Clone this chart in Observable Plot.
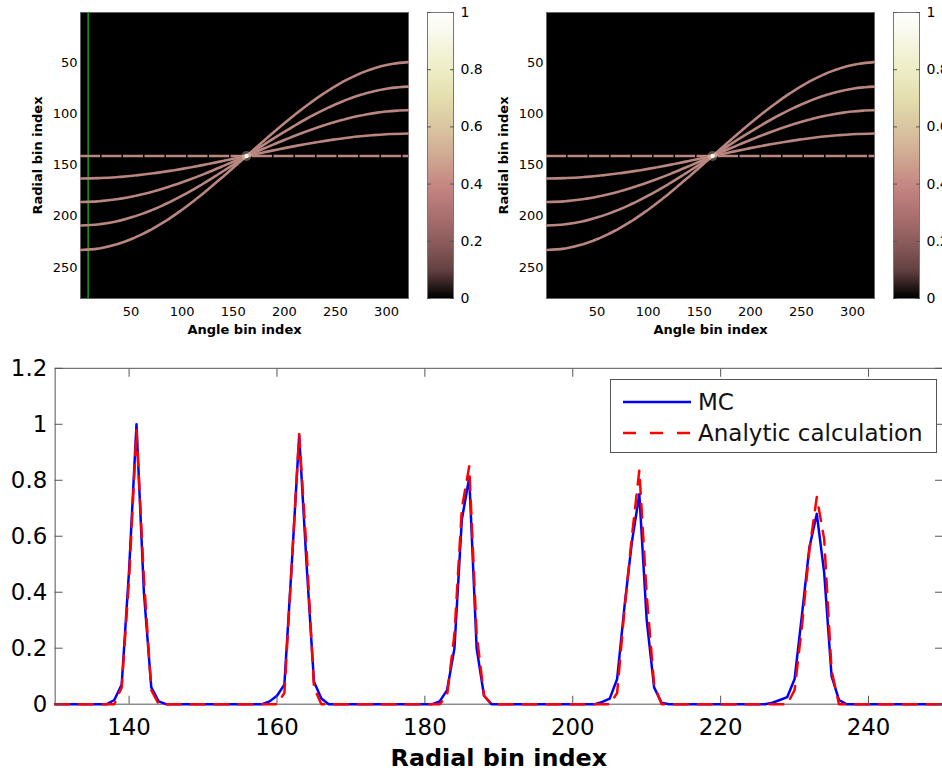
<!DOCTYPE html>
<html><head><meta charset="utf-8">
<script src="https://cdn.jsdelivr.net/npm/d3@7"></script>
<script src="https://cdn.jsdelivr.net/npm/@observablehq/plot@0.6"></script>
<style>
body{margin:0;background:#fff;}
#root{position:relative;width:942px;height:776px;overflow:hidden;background:#fff;font-family:"DejaVu Sans",sans-serif;}
#root > *{position:absolute;}
</style></head><body><div id="root"></div>
<script>
// ---------- Top panels: sinogram curves (angle bin vs radial bin) ----------
const angleSamples = [1, 20, 40, 60, 80, 100, 120, 140, 160, 180, 200, 220, 240, 260, 280, 300, 321];
const curveR1 = [163, 162.6, 161.4, 159.4, 156.8, 153.6, 149.9, 145.8, 141.6, 137.4, 133.3, 129.5, 126.2, 123.3, 121.1, 119.7, 119.0];
const curveR2 = [186, 185.2, 182.7, 178.7, 173.3, 166.7, 159.2, 150.9, 142.3, 133.7, 125.3, 117.5, 110.6, 104.8, 100.3, 97.4, 96.1];
const curveR3 = [209, 207.7, 204.0, 197.9, 189.8, 179.8, 168.4, 155.9, 143.0, 129.9, 117.3, 105.5, 95.1, 86.3, 79.6, 75.1, 73.1];
const curveR4 = [233, 231.3, 226.2, 218.0, 207.0, 193.6, 178.1, 161.2, 143.7, 126.0, 108.9, 93.0, 78.9, 67.0, 57.9, 51.9, 49.1];
const flatRadial = 141;          // horizontal line
const crossAngle = 163;          // bright crossing point
const greenAngle = 8;            // green marker line (left panel only)
const heatXTicks = [50, 100, 150, 200, 250, 300];
const heatYTicks = [50, 100, 150, 200, 250];
const angleDomain = [0.5, 321.5];
const radialDomain = [0.5, 280.5];

// colour bar (pink colormap) stops
const cmapStops  = [0, 0.1, 0.2, 0.3, 0.4, 0.5, 0.6, 0.7, 0.8, 0.9, 1];
const cmapColors = ["#000000","#654242","#8e5d5d","#ae7272","#c68984","#d0aa93","#dac6a1","#e4deae","#ededc6","#f6f6e4","#ffffff"];
const cbarTicks = [0, 0.2, 0.4, 0.6, 0.8, 1];

// ---------- Bottom panel: profiles ----------
const mcX = [130, 137, 138, 139, 140, 141, 142, 143, 144, 145,
             158, 159, 160, 161, 162, 163, 164, 165, 166, 167,
             181, 182, 183, 184, 185, 186, 187, 188, 189,
             203, 204, 205, 206, 207, 208, 209, 210, 211, 212, 213,
             226, 227, 228, 229, 230, 231, 232, 233, 234, 235, 236, 237, 250];
const mcY = [0, 0, 0.015, 0.07, 0.48, 1.0, 0.40, 0.06, 0.01, 0,
             0, 0.01, 0.03, 0.07, 0.50, 0.96, 0.50, 0.08, 0.02, 0,
             0, 0.01, 0.05, 0.20, 0.66, 0.81, 0.20, 0.03, 0,
             0, 0.008, 0.02, 0.09, 0.35, 0.58, 0.75, 0.30, 0.06, 0.005, 0,
             0, 0.005, 0.015, 0.025, 0.09, 0.32, 0.56, 0.68, 0.47, 0.10, 0.015, 0, 0];
const anX = [130, 138, 139, 140, 141, 142, 143, 144,
             160, 161, 162, 163, 164, 165, 166,
             182, 183, 184, 185, 186, 187, 188, 189,
             205, 206, 207, 208, 209, 210, 211, 212,
             229, 230, 231, 232, 233, 234, 235, 236, 250];
const anY = [0, 0, 0.06, 0.45, 0.98, 0.45, 0.05, 0,
             0, 0.04, 0.50, 0.965, 0.55, 0.06, 0,
             0, 0.03, 0.25, 0.70, 0.85, 0.25, 0.03, 0,
             0, 0.04, 0.34, 0.60, 0.835, 0.39, 0.07, 0,
             0, 0.05, 0.28, 0.55, 0.74, 0.59, 0.12, 0, 0];
const profXTicks = [140, 160, 180, 200, 220, 240];
const profYTicks = [0, 0.2, 0.4, 0.6, 0.8, 1, 1.2];
const seriesNames = ["MC", "Analytic calculation"];

const root = document.getElementById("root");
const FONT = "DejaVu Sans";
const curveColor = "#b98680";

function place(el, left, top) { el.style.left = left + "px"; el.style.top = top + "px"; root.appendChild(el); return el; }

function makeHeat(showGreen) {
  const curves = [curveR1, curveR2, curveR3, curveR4];
  const rows = curves.flatMap((rs, k) => rs.map((r, i) => ({id: k, angle: angleSamples[i], r})));
  return Plot.plot({
    width: 420, height: 340, marginLeft: 80, marginRight: 12, marginTop: 12, marginBottom: 42,
    x: {domain: angleDomain},
    y: {domain: radialDomain, reverse: true},
    style: {fontFamily: FONT, fontSize: "13px", background: "transparent", overflow: "visible"},
    marks: [
      Plot.frame({fill: "black", stroke: "#666"}),
      showGreen ? Plot.ruleX([greenAngle], {stroke: "#0a9a0a", strokeWidth: 1.6}) : null,
      Plot.ruleY([flatRadial], {stroke: curveColor, strokeWidth: 2.6, strokeDasharray: "20,1.5"}),
      Plot.line(rows, {x: "angle", y: "r", z: "id", stroke: curveColor, strokeWidth: 2.6, curve: "monotone-x", strokeDasharray: "17,1.5"}),
      Plot.dot([{a: crossAngle, r: flatRadial}], {x: "a", y: "r", r: 5, fill: "#f0dcc4", fillOpacity: 0.35}),
      Plot.dot([{a: crossAngle, r: flatRadial}], {x: "a", y: "r", r: 2.2, fill: "#fff8ea"}),
      Plot.axisX({ticks: heatXTicks, tickSize: 0, tickPadding: 8, label: null}),
      Plot.axisY({ticks: heatYTicks, tickSize: 0, tickPadding: 3, label: null}),
      Plot.text(["Angle bin index"], {frameAnchor: "bottom", dy: 31, lineAnchor: "middle", textAnchor: "middle", fontWeight: "bold", fontSize: 13}),
      Plot.text(["Radial bin index"], {frameAnchor: "left", dx: -43, rotate: -90, lineAnchor: "middle", textAnchor: "middle", fontWeight: "bold", fontSize: 13})
    ]
  });
}

function makeCbar() {
  const step = 0.004;
  const levels = d3.range(0, 1, step);
  return Plot.plot({
    width: 70, height: 340, marginLeft: 7, marginRight: 37, marginTop: 12, marginBottom: 42,
    x: {domain: [0, 1], axis: null},
    y: {domain: [0, 1]},
    color: {type: "linear", domain: cmapStops, range: cmapColors, interpolate: "rgb"},
    style: {fontFamily: FONT, fontSize: "14px", background: "transparent", overflow: "visible"},
    marks: [
      Plot.rect(levels, {x1: 0, x2: 1, y1: d => d, y2: d => Math.min(1, d + 3 * step), fill: d => d + step / 2}),
      Plot.frame({stroke: "#777"}),
      Plot.axisY({anchor: "left", ticks: cbarTicks, tickSize: -4, fill: "none", label: null, stroke: "#555"}),
      Plot.axisY({anchor: "right", ticks: cbarTicks, tickSize: -4, tickPadding: 11, label: null, tickFormat: d => String(d), stroke: "#555"})
    ]
  });
}

function makeProfile() {
  const mc = mcX.map((x, i) => ({x, y: mcY[i]}));
  const an = anX.map((x, i) => ({x, y: anY[i]}));
  return Plot.plot({
    width: 948, height: 436, marginLeft: 55, marginRight: 0, marginTop: 28, marginBottom: 70,
    x: {domain: [130, 250]},
    y: {domain: [0, 1.2]},
    style: {fontFamily: FONT, fontSize: "23px", background: "transparent", overflow: "visible"},
    marks: [
      Plot.frame({stroke: "#555"}),
      Plot.line(mc, {x: "x", y: "y", stroke: "#0000ff", strokeWidth: 2.5}),
      Plot.line(an, {x: "x", y: "y", stroke: "#ff0000", strokeWidth: 2.5, strokeDasharray: "14,10"}),
      Plot.axisX({anchor: "bottom", ticks: profXTicks, tickSize: -8, tickPadding: 23, label: null, stroke: "#555", fontSize: 23}),
      Plot.axisX({anchor: "top", ticks: profXTicks, tickSize: -8, fill: "none", label: null, stroke: "#555"}),
      Plot.axisY({anchor: "left", ticks: profYTicks, tickSize: -8, tickPadding: 16, tickFormat: d => String(d), label: null, stroke: "#555", fontSize: 23}),
      Plot.axisY({anchor: "right", ticks: profYTicks, tickSize: -8, fill: "none", label: null, stroke: "#555"}),
      Plot.text(["Radial bin index"], {frameAnchor: "bottom", dy: 55, lineAnchor: "middle", textAnchor: "middle", fontWeight: "bold", fontSize: 24})
    ]
  });
}

place(makeHeat(true), 0, 0);
place(makeCbar(), 420, 0);
place(makeHeat(false), 466, 0);
place(makeCbar(), 886, 0);
place(makeProfile(), 0, 340);

// legend
const ns = "http://www.w3.org/2000/svg";
const leg = document.createElementNS(ns, "svg");
leg.setAttribute("width", 328); leg.setAttribute("height", 75);
leg.innerHTML = `
  <rect x="0.5" y="0.5" width="326" height="73" fill="#fff" stroke="#555" stroke-width="1"/>
  <line x1="13" x2="81" y1="23" y2="23" stroke="#0000ff" stroke-width="2.5"/>
  <line x1="13" x2="81" y1="54" y2="54" stroke="#ff0000" stroke-width="2.5" stroke-dasharray="13,14"/>
  <text x="88" y="23" dy="0.36em" font-family="${FONT}" font-size="23" fill="#111">${seriesNames[0]}</text>
  <text x="88" y="54" dy="0.36em" font-family="${FONT}" font-size="23" fill="#111">${seriesNames[1]}</text>`;
place(leg, 610, 379);
</script></body></html>
